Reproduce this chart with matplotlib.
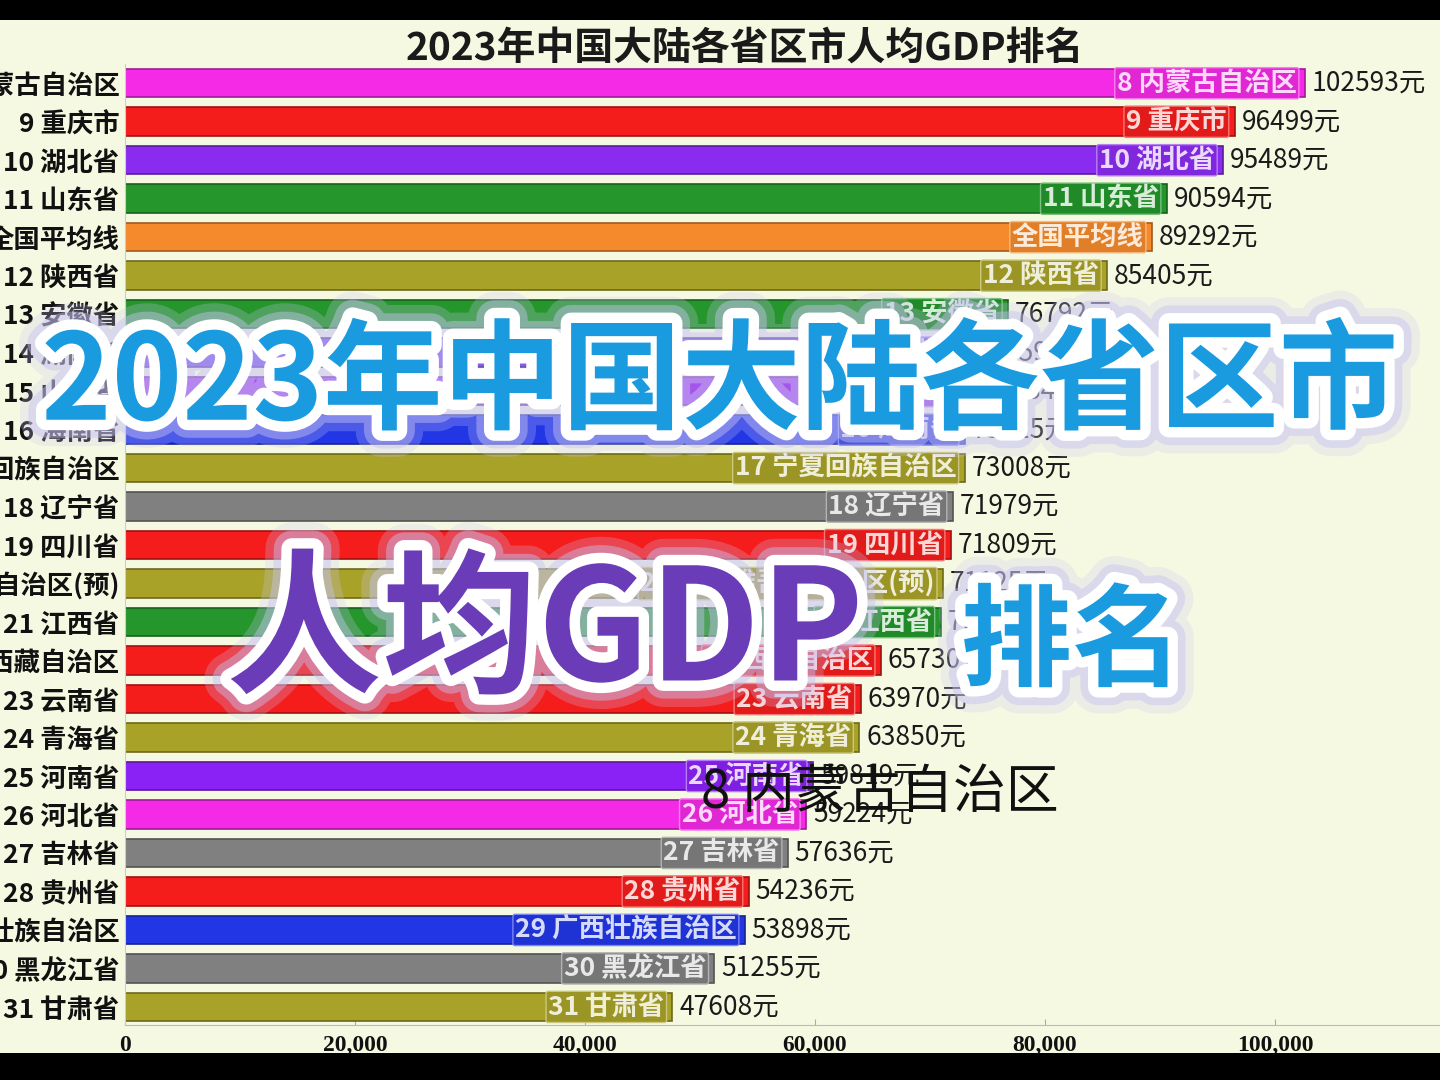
import matplotlib.pyplot as plt
import matplotlib.patheffects as pe
from matplotlib.patches import Rectangle
from matplotlib.colors import to_rgb
from matplotlib.ticker import FuncFormatter

plt.rcParams['font.family'] = ['Noto Sans CJK SC', 'DejaVu Sans']

# data (rank label, value in yuan), top to bottom
names = ['8 内蒙古自治区', '9 重庆市', '10 湖北省', '11 山东省', '全国平均线',
         '12 陕西省', '13 安徽省', '14 湖南省', '15 山西省', '16 海南省',
         '17 宁夏回族自治区', '18 辽宁省', '19 四川省', '20 新疆维吾尔自治区(预)',
         '21 江西省', '22 西藏自治区', '23 云南省', '24 青海省', '25 河南省',
         '26 河北省', '27 吉林省', '28 贵州省', '29 广西壮族自治区',
         '30 黑龙江省', '31 甘肃省']
values = [102593, 96499, 95489, 90594, 89292,
          85405, 76792, 75938, 73984, 73025,
          73008, 71979, 71809, 71125,
          70923, 65730, 63970, 63850, 59819,
          59224, 57636, 54236, 53898,
          51255, 47608]
colors = ['#f52ae6', '#f51c1c', '#8a2cf0', '#24962c', '#f58a2c',
          '#a8a228', '#24962c', '#6c3ce8', '#9a30e8', '#2236e6',
          '#a8a228', '#808080', '#f51c1c', '#a8a228',
          '#24962c', '#f51c1c', '#f51c1c', '#a8a228', '#8a22f5',
          '#f52ae6', '#808080', '#f51c1c', '#2236e6',
          '#808080', '#a8a228']

title = '2023年中国大陆各省区市人均GDP排名'


def mix(c, other, t):
    a = to_rgb(c)
    b = to_rgb(other)
    return tuple(a[i] * (1 - t) + b[i] * t for i in range(3))


fig = plt.figure(figsize=(14.4, 10.8), dpi=100, facecolor='black')
# light frame of the video, black bands top and bottom
fig.patches.append(Rectangle((0, 27 / 1080), 1, 1 - 47 / 1080, transform=fig.transFigure,
                             facecolor='#f6f9e2', edgecolor='none', zorder=-5))

ax = fig.add_axes([125 / 1440, 55 / 1080, 1 - 125 / 1440, 961 / 1080])
ax.set_facecolor('none')
n = len(values)
ypos = list(range(n))
ax.barh(ypos, values, height=0.74, color=colors,
        edgecolor=[mix(c, 'black', 0.35) for c in colors], linewidth=1.2, zorder=2)
ax.set_xlim(0, 114350)
ax.set_ylim(n - 0.53, -0.5)

ax.set_yticks(ypos)
ax.set_yticklabels(names, fontsize=19, fontweight='bold', color='#111111')
ax.tick_params(axis='y', length=0, pad=4)
ax.set_xticks([0, 20000, 40000, 60000, 80000, 100000])
ax.xaxis.set_major_formatter(FuncFormatter(lambda v, p: f'{int(v):,}'))
ax.tick_params(axis='x', labelsize=17, colors='#aaaaaa', length=4, direction='in', pad=7)
for lab in ax.get_xticklabels():
    lab.set_color('#111111')
    lab.set_fontfamily(['Liberation Serif', 'DejaVu Serif'])
    lab.set_fontweight('bold')
for s in ['top', 'right']:
    ax.spines[s].set_visible(False)
ax.spines['bottom'].set_color('#bbbbbb')
ax.spines['left'].set_color('#cccccc')
ax.spines['left'].set_linewidth(0.8)

for y, v, c, nm in zip(ypos, values, colors, names):
    ax.text(v - 700, y, nm, ha='right', va='center', fontsize=19, fontweight='bold',
            color=mix(c, 'white', 0.82), zorder=3,
            bbox=dict(boxstyle='round,pad=0.08', facecolor=mix(c, 'black', 0.08),
                      edgecolor=mix(c, 'white', 0.4), linewidth=1))
    ax.text(v + 600, y, f'{v}元', ha='left', va='center', fontsize=19, color='#1a1a1a', zorder=3)

fig.text(745 / 1440, 1 - 48 / 1080, title, ha='center', va='center', fontsize=28,
         fontweight='bold', color='#1a1a1a')

# big overlay captions
glow = [pe.withStroke(linewidth=38, foreground=(0.80, 0.78, 0.96, 0.25)),
        pe.withStroke(linewidth=26, foreground=(0.78, 0.76, 0.95, 0.45)),
        pe.withStroke(linewidth=15, foreground='white')]
fig.text(720 / 1440, 1 - 385 / 1080, '2023年中国大陆各省区市', ha='center', va='center',
         fontsize=86, fontweight='bold', color='#1a9be0', path_effects=glow, zorder=10)
fig.text(545 / 1440, 1 - 635 / 1080, '人均GDP', ha='center', va='center',
         fontsize=112, fontweight='bold', color='#6a3cb8', path_effects=glow, zorder=10)
fig.text(1072 / 1440, 1 - 645 / 1080, '排名', ha='center', va='center',
         fontsize=80, fontweight='bold', color='#1a9be0', path_effects=glow, zorder=10)
fig.text(880 / 1440, 1 - 792 / 1080, '8 内蒙古自治区', ha='center', va='center',
         fontsize=38, color='#111111', zorder=10)

fig.savefig('out.png', dpi=100, facecolor='black')
